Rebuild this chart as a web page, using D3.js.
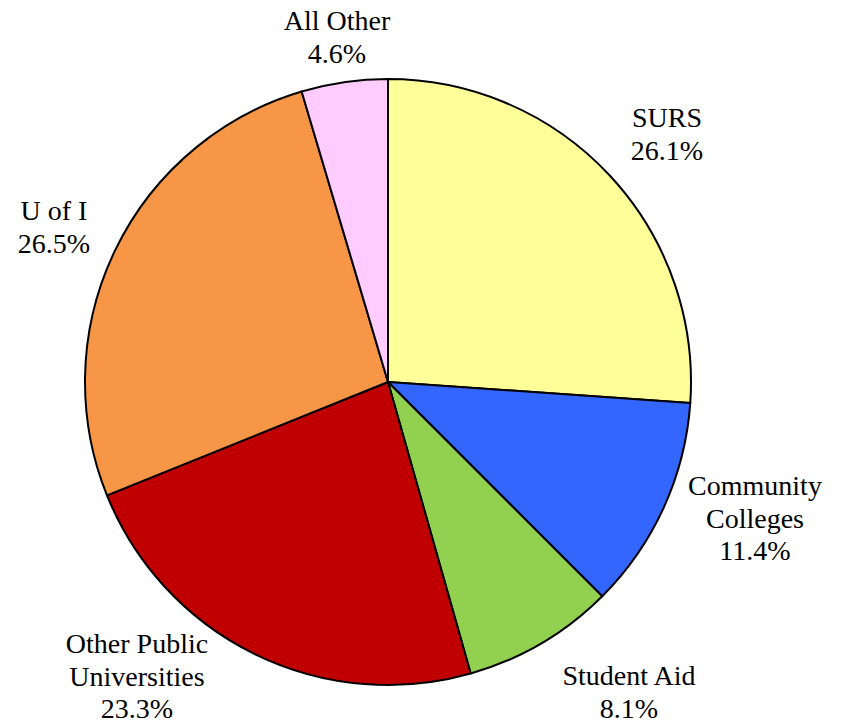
<!DOCTYPE html>
<html>
<head>
<meta charset="utf-8">
<script src="https://cdn.jsdelivr.net/npm/d3@7"></script>
<style>
  body { margin: 0; background: #fff; }
</style>
</head>
<body>
<div id="chart"></div>
<script>
// chart data
var categories = ["SURS", "Community Colleges", "Student Aid", "Other Public Universities", "U of I", "All Other"];
var values = [26.1, 11.4, 8.1, 23.3, 26.5, 4.6];
// how each label is broken into lines
var labelLines = [["SURS"], ["Community", "Colleges"], ["Student Aid"], ["Other Public", "Universities"], ["U of I"], ["All Other"]];
var colors = ["#FFFF99", "#3366FF", "#92D050", "#C00000", "#F79646", "#FFCCFF"];

// layout: label anchor (center x, first baseline) as offset from pie center
var labelOffset = [[279, -255], [367, 113], [241, 303], [-251, 271], [-334, -162], [-51, -352]];

var width = 843, height = 726;
var cx = 388, cy = 382, radius = 303;
var lineH = 32.5;

var svg = d3.select("#chart")
  .append("svg")
  .attr("width", width)
  .attr("height", height);

var g = svg.append("g")
  .attr("transform", "translate(" + cx + "," + cy + ")");

var pie = d3.pie().sort(null).value(function(d) { return d; });
var arc = d3.arc().innerRadius(0).outerRadius(radius);

var arcs = pie(values);

// slices
g.selectAll("path.slice")
  .data(arcs)
  .enter()
  .append("path")
  .attr("class", "slice")
  .attr("d", arc)
  .style("fill", function(d, i) { return colors[i]; })
  .style("stroke", "#000")
  .style("stroke-width", 2)
  .style("stroke-linejoin", "round");

// labels
var labels = g.selectAll("text.label")
  .data(arcs)
  .enter()
  .append("text")
  .attr("class", "label")
  .attr("text-anchor", "middle")
  .attr("font-family", "'Liberation Serif', Tinos, 'Times New Roman', Times, 'DejaVu Serif', serif")
  .attr("font-size", 28)
  .attr("fill", "#000")
  .attr("transform", function(d, i) { return "translate(" + labelOffset[i][0] + "," + labelOffset[i][1] + ")"; });

labels.each(function(d, i) {
  var t = d3.select(this);
  var lines = labelLines[i].concat([values[i].toFixed(1) + "%"]);
  lines.forEach(function(s, k) {
    t.append("tspan").attr("x", 0).attr("y", k * lineH).text(s);
  });
});
</script>
</body>
</html>
